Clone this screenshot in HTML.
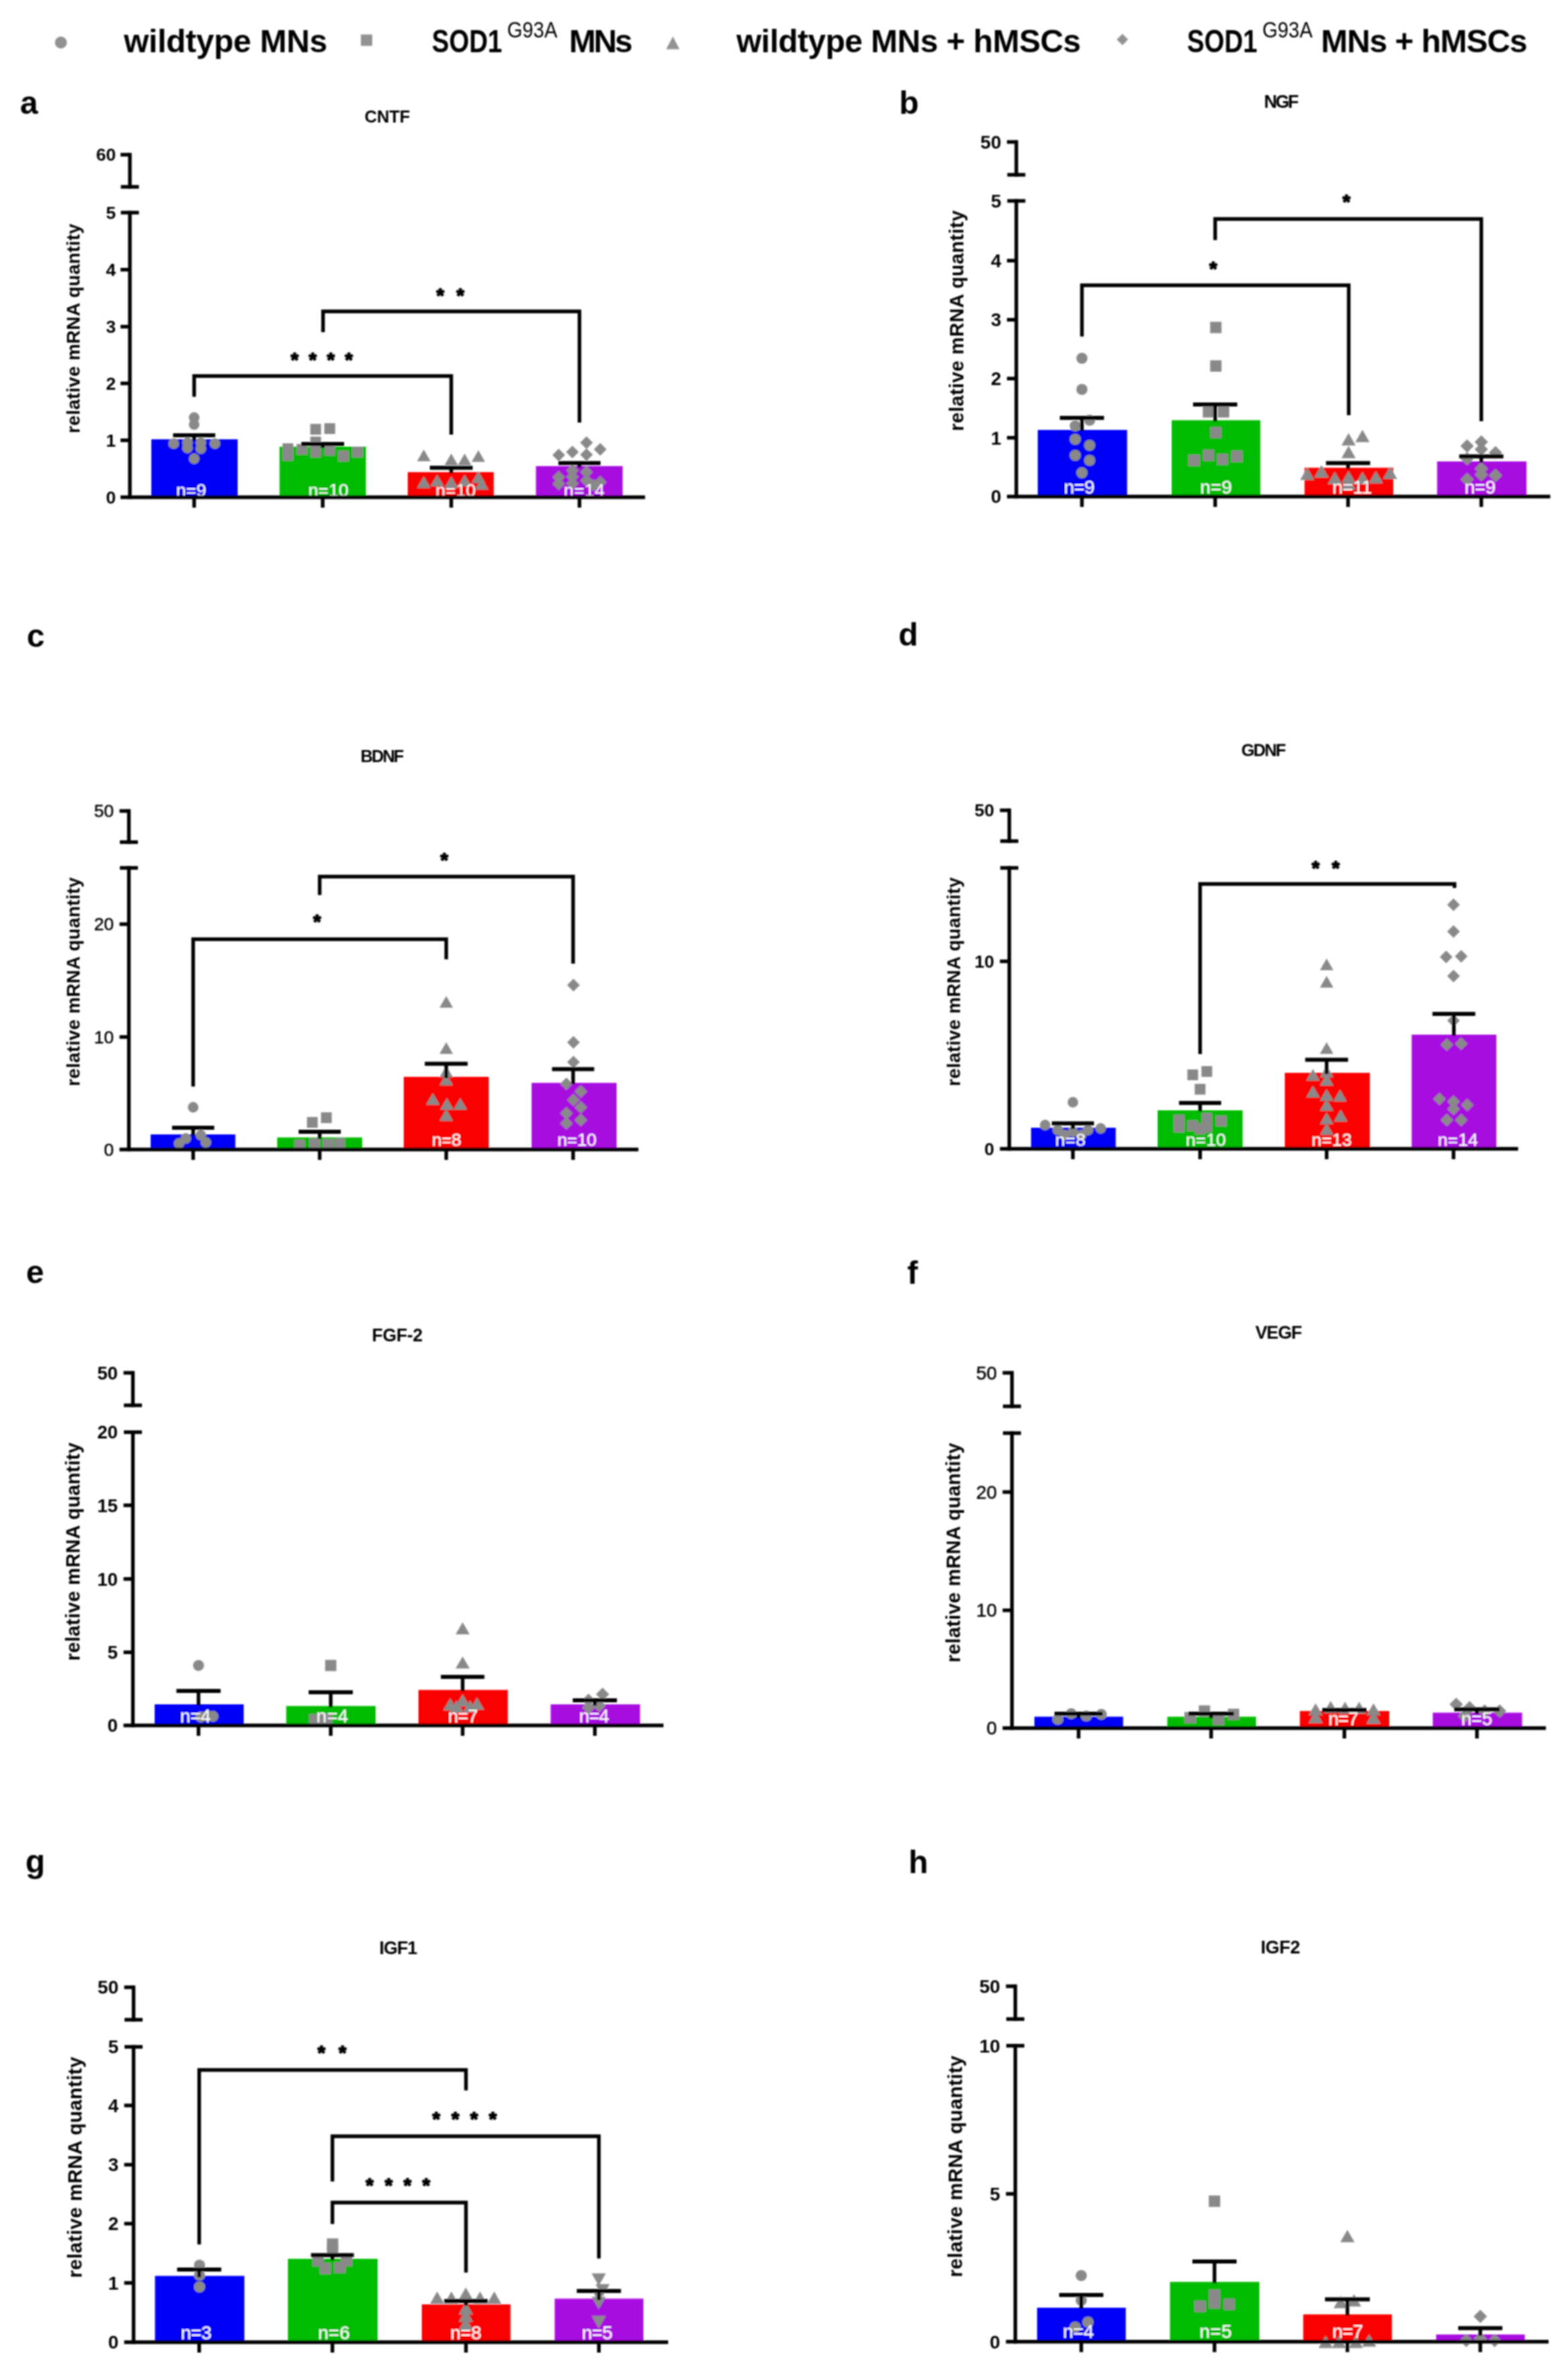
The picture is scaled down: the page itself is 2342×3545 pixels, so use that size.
<!DOCTYPE html>
<html lang="en">
<head>
<meta charset="utf-8">
<title>Neurotrophic factor mRNA expression</title>
<style>
html,body{margin:0;padding:0;background:#fff;}
body{width:2342px;height:3545px;overflow:hidden;font-family:"Liberation Sans", sans-serif;}
svg{display:block;}
</style>
</head>
<body>
<svg width="2342" height="3545" viewBox="0 0 2342 3545" font-family='"Liberation Sans", sans-serif'>
<rect width="2342" height="3545" fill="#fff"/>
<g id="fig" filter="url(#soft)">
<circle cx="91" cy="63.5" r="9" fill="#929292"/>
<text x="185" y="77.5" font-size="48" font-weight="bold" text-anchor="start" fill="#000" textLength="304" lengthAdjust="spacing">wildtype MNs</text>
<rect x="539" y="51.5" width="17" height="17" fill="#929292"/>
<text x="645" y="77.5" font-size="48" font-weight="bold" text-anchor="start" fill="#000" textLength="105" lengthAdjust="spacingAndGlyphs">SOD1</text>
<text x="757.5" y="56" font-size="33" font-weight="normal" text-anchor="start" fill="#000" textLength="75" lengthAdjust="spacingAndGlyphs">G93A</text>
<text x="850" y="77.5" font-size="48" font-weight="bold" text-anchor="start" fill="#000" textLength="95" lengthAdjust="spacing">MNs</text>
<path d="M995 73.5L1015 73.5L1005 54.5Z" fill="#929292"/>
<text x="1100" y="77.5" font-size="48" font-weight="bold" text-anchor="start" fill="#000" textLength="514.5" lengthAdjust="spacing">wildtype MNs + hMSCs</text>
<path d="M1668 59L1676.5 50.5L1685 59L1676.5 67.5Z" fill="#929292"/>
<text x="1773" y="77.5" font-size="48" font-weight="bold" text-anchor="start" fill="#000" textLength="105" lengthAdjust="spacingAndGlyphs">SOD1</text>
<text x="1885.5" y="56" font-size="33" font-weight="normal" text-anchor="start" fill="#000" textLength="75" lengthAdjust="spacingAndGlyphs">G93A</text>
<text x="1973" y="77.5" font-size="48" font-weight="bold" text-anchor="start" fill="#000" textLength="308.5" lengthAdjust="spacing">MNs + hMSCs</text>
<rect x="226" y="656" width="129" height="86.5" fill="#0000f8"/>
<rect x="417.5" y="667" width="129" height="75.5" fill="#00bc00"/>
<rect x="609" y="705" width="128.5" height="37.5" fill="#fa0000"/>
<rect x="800.5" y="696" width="129.5" height="46.5" fill="#a808e0"/>
<circle cx="290" cy="623.5" r="7.92" fill="#898989"/>
<circle cx="290" cy="634" r="7.92" fill="#898989"/>
<circle cx="259.5" cy="662.5" r="7.92" fill="#898989"/>
<circle cx="280" cy="661" r="7.92" fill="#898989"/>
<circle cx="280" cy="669" r="7.92" fill="#898989"/>
<circle cx="300" cy="661" r="7.92" fill="#898989"/>
<circle cx="300" cy="670" r="7.92" fill="#898989"/>
<circle cx="321" cy="662.5" r="7.92" fill="#898989"/>
<circle cx="290" cy="685" r="7.92" fill="#898989"/>
<rect x="463.44" y="632.94" width="16.13" height="16.13" fill="#898989"/>
<rect x="484.44" y="631.94" width="16.13" height="16.13" fill="#898989"/>
<rect x="421.94" y="661.94" width="16.13" height="16.13" fill="#898989"/>
<rect x="421.94" y="671.94" width="16.13" height="16.13" fill="#898989"/>
<rect x="442.94" y="662.94" width="16.13" height="16.13" fill="#898989"/>
<rect x="463.44" y="666.94" width="16.13" height="16.13" fill="#898989"/>
<rect x="484.44" y="664.44" width="16.13" height="16.13" fill="#898989"/>
<rect x="504.94" y="672.94" width="16.13" height="16.13" fill="#898989"/>
<rect x="525.94" y="666.94" width="16.13" height="16.13" fill="#898989"/>
<rect x="463.44" y="651.94" width="16.13" height="16.13" fill="#898989"/>
<path d="M622.91 688.71L643.09 688.71L633 671.29Z" fill="#898989"/>
<path d="M663.91 694.71L684.09 694.71L674 677.29Z" fill="#898989"/>
<path d="M683.91 694.71L704.09 694.71L694 677.29Z" fill="#898989"/>
<path d="M704.41 689.71L724.59 689.71L714.5 672.29Z" fill="#898989"/>
<path d="M622.91 728.71L643.09 728.71L633 711.29Z" fill="#898989"/>
<path d="M642.91 726.21L663.09 726.21L653 708.79Z" fill="#898989"/>
<path d="M663.91 728.71L684.09 728.71L674 711.29Z" fill="#898989"/>
<path d="M683.91 726.21L704.09 726.21L694 708.79Z" fill="#898989"/>
<path d="M704.41 721.21L724.59 721.21L714.5 703.79Z" fill="#898989"/>
<path d="M709.41 731.21L729.59 731.21L719.5 713.79Z" fill="#898989"/>
<path d="M866.5 661L876 651.5L885.5 661L876 670.5Z" fill="#898989"/>
<path d="M887 671L896.5 661.5L906 671L896.5 680.5Z" fill="#898989"/>
<path d="M845.5 675L855 665.5L864.5 675L855 684.5Z" fill="#898989"/>
<path d="M825 679.5L834.5 670L844 679.5L834.5 689Z" fill="#898989"/>
<path d="M866.5 679L876 669.5L885.5 679L876 688.5Z" fill="#898989"/>
<path d="M845.5 702.5L855 693L864.5 702.5L855 712Z" fill="#898989"/>
<path d="M866.5 705L876 695.5L885.5 705L876 714.5Z" fill="#898989"/>
<path d="M845.5 712L855 702.5L864.5 712L855 721.5Z" fill="#898989"/>
<path d="M825 712.5L834.5 703L844 712.5L834.5 722Z" fill="#898989"/>
<path d="M825 722.5L834.5 713L844 722.5L834.5 732Z" fill="#898989"/>
<path d="M866.5 717.5L876 708L885.5 717.5L876 727Z" fill="#898989"/>
<path d="M887 720L896.5 710.5L906 720L896.5 729.5Z" fill="#898989"/>
<path d="M845.5 722L855 712.5L864.5 722L855 731.5Z" fill="#898989"/>
<path d="M877.5 725L887 715.5L896.5 725L887 734.5Z" fill="#898989"/>
<line x1="290" y1="650" x2="290" y2="658" stroke="#000" stroke-width="5.4"/>
<line x1="258.5" y1="650" x2="321.5" y2="650" stroke="#000" stroke-width="5.8"/>
<line x1="482" y1="663" x2="482" y2="669" stroke="#000" stroke-width="5.4"/>
<line x1="450" y1="663" x2="514" y2="663" stroke="#000" stroke-width="5.8"/>
<line x1="674" y1="698.5" x2="674" y2="707" stroke="#000" stroke-width="5.4"/>
<line x1="642" y1="698.5" x2="706" y2="698.5" stroke="#000" stroke-width="5.8"/>
<line x1="865.5" y1="691.5" x2="865.5" y2="698" stroke="#000" stroke-width="5.4"/>
<line x1="834" y1="691.5" x2="897" y2="691.5" stroke="#000" stroke-width="5.8"/>
<text x="285.5" y="741" font-size="26.64" font-weight="normal" text-anchor="middle" fill="#fff" textLength="45" lengthAdjust="spacing">n=9</text>
<text x="490.5" y="741" font-size="26.64" font-weight="normal" text-anchor="middle" fill="#fff" textLength="60" lengthAdjust="spacing">n=10</text>
<text x="680.5" y="741" font-size="26.64" font-weight="normal" text-anchor="middle" fill="#fff" textLength="60" lengthAdjust="spacing">n=10</text>
<text x="872.5" y="741" font-size="26.64" font-weight="normal" text-anchor="middle" fill="#fff" textLength="61" lengthAdjust="spacing">n=14</text>
<path d="M290 592.5L290 561.5L674 561.5L674 649" fill="none" stroke="#000" stroke-width="5.4" stroke-linejoin="miter"/>
<path d="M482.5 496L482.5 465L865.5 465L865.5 631" fill="none" stroke="#000" stroke-width="5.4" stroke-linejoin="miter"/>
<text x="440" y="547" font-size="30" font-weight="bold" text-anchor="middle" fill="#000" stroke="#000" stroke-width="1.6" stroke-linejoin="round">*</text>
<text x="467" y="547" font-size="30" font-weight="bold" text-anchor="middle" fill="#000" stroke="#000" stroke-width="1.6" stroke-linejoin="round">*</text>
<text x="494" y="547" font-size="30" font-weight="bold" text-anchor="middle" fill="#000" stroke="#000" stroke-width="1.6" stroke-linejoin="round">*</text>
<text x="521" y="547" font-size="30" font-weight="bold" text-anchor="middle" fill="#000" stroke="#000" stroke-width="1.6" stroke-linejoin="round">*</text>
<text x="657.5" y="451" font-size="30" font-weight="bold" text-anchor="middle" fill="#000" stroke="#000" stroke-width="1.6" stroke-linejoin="round">*</text>
<text x="687.5" y="451" font-size="30" font-weight="bold" text-anchor="middle" fill="#000" stroke="#000" stroke-width="1.6" stroke-linejoin="round">*</text>
<line x1="194" y1="314.8" x2="194" y2="745.2" stroke="#000" stroke-width="5.4"/>
<line x1="180" y1="742.5" x2="963.5" y2="742.5" stroke="#000" stroke-width="5.4"/>
<line x1="180.5" y1="317.5" x2="207.5" y2="317.5" stroke="#000" stroke-width="5.4"/>
<line x1="194" y1="228.3" x2="194" y2="281.7" stroke="#000" stroke-width="5.4"/>
<line x1="180" y1="231" x2="194" y2="231" stroke="#000" stroke-width="5.4"/>
<line x1="180.5" y1="279" x2="207.5" y2="279" stroke="#000" stroke-width="5.4"/>
<text x="173" y="751.92" font-size="26.64" font-weight="bold" text-anchor="end" fill="#000">0</text>
<line x1="180" y1="657.5" x2="194" y2="657.5" stroke="#000" stroke-width="5.4"/>
<text x="173" y="666.92" font-size="26.64" font-weight="bold" text-anchor="end" fill="#000">1</text>
<line x1="180" y1="572.5" x2="194" y2="572.5" stroke="#000" stroke-width="5.4"/>
<text x="173" y="581.92" font-size="26.64" font-weight="bold" text-anchor="end" fill="#000">2</text>
<line x1="180" y1="487.8" x2="194" y2="487.8" stroke="#000" stroke-width="5.4"/>
<text x="173" y="497.22" font-size="26.64" font-weight="bold" text-anchor="end" fill="#000">3</text>
<line x1="180" y1="402.7" x2="194" y2="402.7" stroke="#000" stroke-width="5.4"/>
<text x="173" y="412.12" font-size="26.64" font-weight="bold" text-anchor="end" fill="#000">4</text>
<text x="173" y="326.92" font-size="26.64" font-weight="bold" text-anchor="end" fill="#000">5</text>
<text x="173" y="240.42" font-size="26.64" font-weight="bold" text-anchor="end" fill="#000">60</text>
<line x1="290" y1="742.5" x2="290" y2="758" stroke="#000" stroke-width="5.4"/>
<line x1="482" y1="742.5" x2="482" y2="758" stroke="#000" stroke-width="5.4"/>
<line x1="674" y1="742.5" x2="674" y2="758" stroke="#000" stroke-width="5.4"/>
<line x1="865.5" y1="742.5" x2="865.5" y2="758" stroke="#000" stroke-width="5.4"/>
<text x="578.5" y="183.23" font-size="25.69" font-weight="bold" text-anchor="middle" fill="#000" textLength="68" lengthAdjust="spacing">CNTF</text>
<text transform="translate(119 490.4) rotate(-90)" font-size="27.88" font-weight="bold" text-anchor="middle" textLength="313" lengthAdjust="spacing">relative mRNA quantity</text>
<text x="30" y="169.5" font-size="48" font-weight="bold" text-anchor="start" fill="#000">a</text>
<rect x="1550" y="642" width="133.5" height="99.5" fill="#0000f8"/>
<rect x="1750" y="627.5" width="132.5" height="114" fill="#00bc00"/>
<rect x="1948.5" y="698.5" width="132.5" height="43" fill="#fa0000"/>
<rect x="2146.5" y="689" width="133.5" height="52.5" fill="#a808e0"/>
<circle cx="1616" cy="535" r="8.33" fill="#898989"/>
<circle cx="1616" cy="581.5" r="8.33" fill="#898989"/>
<circle cx="1627.5" cy="627.5" r="8.33" fill="#898989"/>
<circle cx="1606" cy="636" r="8.33" fill="#898989"/>
<circle cx="1606" cy="656" r="8.33" fill="#898989"/>
<circle cx="1627.5" cy="665" r="8.33" fill="#898989"/>
<circle cx="1606" cy="680" r="8.33" fill="#898989"/>
<circle cx="1627.5" cy="687.5" r="8.33" fill="#898989"/>
<circle cx="1616" cy="706" r="8.33" fill="#898989"/>
<rect x="1807.51" y="480.51" width="16.98" height="16.98" fill="#898989"/>
<rect x="1807.51" y="538.01" width="16.98" height="16.98" fill="#898989"/>
<rect x="1796.51" y="606.51" width="16.98" height="16.98" fill="#898989"/>
<rect x="1819.01" y="606.51" width="16.98" height="16.98" fill="#898989"/>
<rect x="1807.51" y="637.51" width="16.98" height="16.98" fill="#898989"/>
<rect x="1775.01" y="679.01" width="16.98" height="16.98" fill="#898989"/>
<rect x="1796.51" y="671.51" width="16.98" height="16.98" fill="#898989"/>
<rect x="1817.51" y="677.51" width="16.98" height="16.98" fill="#898989"/>
<rect x="1839.01" y="673.01" width="16.98" height="16.98" fill="#898989"/>
<path d="M2003.63 665.17L2024.87 665.17L2014.25 646.83Z" fill="#898989"/>
<path d="M2024.38 660.17L2045.62 660.17L2035 641.83Z" fill="#898989"/>
<path d="M2003.63 684.17L2024.87 684.17L2014.25 665.83Z" fill="#898989"/>
<path d="M1941.88 716.67L1963.12 716.67L1952.5 698.33Z" fill="#898989"/>
<path d="M1963.13 712.92L1984.37 712.92L1973.75 694.58Z" fill="#898989"/>
<path d="M1983.13 722.92L2004.37 722.92L1993.75 704.58Z" fill="#898989"/>
<path d="M2003.63 721.67L2024.87 721.67L2014.25 703.33Z" fill="#898989"/>
<path d="M2024.38 722.92L2045.62 722.92L2035 704.58Z" fill="#898989"/>
<path d="M2044.38 721.67L2065.62 721.67L2055 703.33Z" fill="#898989"/>
<path d="M2065.63 715.17L2086.87 715.17L2076.25 696.83Z" fill="#898989"/>
<path d="M2003.63 731.17L2024.87 731.17L2014.25 712.83Z" fill="#898989"/>
<path d="M2181.25 666L2191.25 656L2201.25 666L2191.25 676Z" fill="#898989"/>
<path d="M2202.5 660L2212.5 650L2222.5 660L2212.5 670Z" fill="#898989"/>
<path d="M2202.5 671L2212.5 661L2222.5 671L2212.5 681Z" fill="#898989"/>
<path d="M2223.75 676L2233.75 666L2243.75 676L2233.75 686Z" fill="#898989"/>
<path d="M2181.25 685L2191.25 675L2201.25 685L2191.25 695Z" fill="#898989"/>
<path d="M2202.5 700L2212.5 690L2222.5 700L2212.5 710Z" fill="#898989"/>
<path d="M2202.5 708.75L2212.5 698.75L2222.5 708.75L2212.5 718.75Z" fill="#898989"/>
<path d="M2181.25 716L2191.25 706L2201.25 716L2191.25 726Z" fill="#898989"/>
<path d="M2223.75 710L2233.75 700L2243.75 710L2233.75 720Z" fill="#898989"/>
<line x1="1616" y1="624" x2="1616" y2="644" stroke="#000" stroke-width="5.4"/>
<line x1="1583" y1="624" x2="1649" y2="624" stroke="#000" stroke-width="5.8"/>
<line x1="1815" y1="604" x2="1815" y2="629.5" stroke="#000" stroke-width="5.4"/>
<line x1="1782" y1="604" x2="1848" y2="604" stroke="#000" stroke-width="5.8"/>
<line x1="2013.5" y1="691.5" x2="2013.5" y2="700.5" stroke="#000" stroke-width="5.4"/>
<line x1="1980.5" y1="691.5" x2="2046.5" y2="691.5" stroke="#000" stroke-width="5.8"/>
<line x1="2212.5" y1="681.5" x2="2212.5" y2="691" stroke="#000" stroke-width="5.4"/>
<line x1="2179.5" y1="681.5" x2="2245.5" y2="681.5" stroke="#000" stroke-width="5.8"/>
<text x="1612" y="737" font-size="28.04" font-weight="normal" text-anchor="middle" fill="#fff" textLength="46" lengthAdjust="spacing">n=9</text>
<text x="1816.25" y="737" font-size="28.04" font-weight="normal" text-anchor="middle" fill="#fff" textLength="47.5" lengthAdjust="spacing">n=9</text>
<text x="2019.5" y="737" font-size="28.04" font-weight="normal" text-anchor="middle" fill="#fff" textLength="59" lengthAdjust="spacing">n=11</text>
<text x="2210.75" y="737" font-size="28.04" font-weight="normal" text-anchor="middle" fill="#fff" textLength="46.5" lengthAdjust="spacing">n=9</text>
<path d="M1616 502.5L1616 426L2014.5 426L2014.5 620" fill="none" stroke="#000" stroke-width="5.4" stroke-linejoin="miter"/>
<path d="M1815 358.5L1815 327L2212.5 327L2212.5 629" fill="none" stroke="#000" stroke-width="5.4" stroke-linejoin="miter"/>
<text x="1812" y="410.5" font-size="30" font-weight="bold" text-anchor="middle" fill="#000" stroke="#000" stroke-width="1.6" stroke-linejoin="round">*</text>
<text x="2011" y="311" font-size="30" font-weight="bold" text-anchor="middle" fill="#000" stroke="#000" stroke-width="1.6" stroke-linejoin="round">*</text>
<line x1="1518" y1="297.3" x2="1518" y2="744.2" stroke="#000" stroke-width="5.4"/>
<line x1="1504" y1="741.5" x2="2315.5" y2="741.5" stroke="#000" stroke-width="5.4"/>
<line x1="1504.5" y1="300" x2="1531.5" y2="300" stroke="#000" stroke-width="5.4"/>
<line x1="1518" y1="209.3" x2="1518" y2="263.7" stroke="#000" stroke-width="5.4"/>
<line x1="1504" y1="212" x2="1518" y2="212" stroke="#000" stroke-width="5.4"/>
<line x1="1504.5" y1="261" x2="1531.5" y2="261" stroke="#000" stroke-width="5.4"/>
<text x="1495.5" y="751.42" font-size="28.04" font-weight="bold" text-anchor="end" fill="#000">0</text>
<line x1="1504" y1="653.7" x2="1518" y2="653.7" stroke="#000" stroke-width="5.4"/>
<text x="1495.5" y="663.62" font-size="28.04" font-weight="bold" text-anchor="end" fill="#000">1</text>
<line x1="1504" y1="565.3" x2="1518" y2="565.3" stroke="#000" stroke-width="5.4"/>
<text x="1495.5" y="575.22" font-size="28.04" font-weight="bold" text-anchor="end" fill="#000">2</text>
<line x1="1504" y1="477.5" x2="1518" y2="477.5" stroke="#000" stroke-width="5.4"/>
<text x="1495.5" y="487.42" font-size="28.04" font-weight="bold" text-anchor="end" fill="#000">3</text>
<line x1="1504" y1="389.2" x2="1518" y2="389.2" stroke="#000" stroke-width="5.4"/>
<text x="1495.5" y="399.12" font-size="28.04" font-weight="bold" text-anchor="end" fill="#000">4</text>
<text x="1495.5" y="309.92" font-size="28.04" font-weight="bold" text-anchor="end" fill="#000">5</text>
<text x="1495.5" y="221.92" font-size="28.04" font-weight="bold" text-anchor="end" fill="#000">50</text>
<line x1="1616" y1="741.5" x2="1616" y2="757" stroke="#000" stroke-width="5.4"/>
<line x1="1815" y1="741.5" x2="1815" y2="757" stroke="#000" stroke-width="5.4"/>
<line x1="2013.5" y1="741.5" x2="2013.5" y2="757" stroke="#000" stroke-width="5.4"/>
<line x1="2212.5" y1="741.5" x2="2212.5" y2="757" stroke="#000" stroke-width="5.4"/>
<text x="1914" y="161.21" font-size="27.04" font-weight="bold" text-anchor="middle" fill="#000" textLength="52" lengthAdjust="spacing">NGF</text>
<text transform="translate(1439.3 479) rotate(-90)" font-size="29.34" font-weight="bold" text-anchor="middle" textLength="329.5" lengthAdjust="spacing">relative mRNA quantity</text>
<text x="1343" y="169.5" font-size="48" font-weight="bold" text-anchor="start" fill="#000">b</text>
<rect x="225" y="1694" width="126.5" height="22.5" fill="#0000f8"/>
<rect x="414" y="1698.5" width="127" height="18" fill="#00bc00"/>
<rect x="603" y="1608" width="127" height="108.5" fill="#fa0000"/>
<rect x="794" y="1617" width="127" height="99.5" fill="#a808e0"/>
<circle cx="288.5" cy="1653.5" r="7.89" fill="#898989"/>
<circle cx="277.5" cy="1700" r="7.89" fill="#898989"/>
<circle cx="300" cy="1695" r="7.89" fill="#898989"/>
<circle cx="267.5" cy="1707.5" r="7.89" fill="#898989"/>
<circle cx="307.5" cy="1706" r="7.89" fill="#898989"/>
<rect x="458.46" y="1667.96" width="16.08" height="16.08" fill="#898989"/>
<rect x="479.46" y="1660.96" width="16.08" height="16.08" fill="#898989"/>
<rect x="439.46" y="1701.96" width="16.08" height="16.08" fill="#898989"/>
<rect x="461.96" y="1699.46" width="16.08" height="16.08" fill="#898989"/>
<rect x="481.96" y="1700.96" width="16.08" height="16.08" fill="#898989"/>
<rect x="499.46" y="1699.46" width="16.08" height="16.08" fill="#898989"/>
<path d="M656.44 1504.68L676.56 1504.68L666.5 1487.32Z" fill="#898989"/>
<path d="M656.44 1573.68L676.56 1573.68L666.5 1556.32Z" fill="#898989"/>
<path d="M656.44 1608.68L676.56 1608.68L666.5 1591.32Z" fill="#898989"/>
<path d="M636.44 1649.68L656.56 1649.68L646.5 1632.32Z" fill="#898989"/>
<path d="M657.44 1657.18L677.56 1657.18L667.5 1639.82Z" fill="#898989"/>
<path d="M677.44 1657.18L697.56 1657.18L687.5 1639.82Z" fill="#898989"/>
<path d="M656.44 1673.68L676.56 1673.68L666.5 1656.32Z" fill="#898989"/>
<path d="M656.44 1620.68L676.56 1620.68L666.5 1603.32Z" fill="#898989"/>
<path d="M847.03 1471L856.5 1461.53L865.97 1471L856.5 1480.47Z" fill="#898989"/>
<path d="M847.03 1556.5L856.5 1547.03L865.97 1556.5L856.5 1565.97Z" fill="#898989"/>
<path d="M847.03 1586L856.5 1576.53L865.97 1586L856.5 1595.47Z" fill="#898989"/>
<path d="M836.53 1618.5L846 1609.03L855.47 1618.5L846 1627.97Z" fill="#898989"/>
<path d="M858.03 1630L867.5 1620.53L876.97 1630L867.5 1639.47Z" fill="#898989"/>
<path d="M847.03 1642.5L856.5 1633.03L865.97 1642.5L856.5 1651.97Z" fill="#898989"/>
<path d="M858.03 1653.5L867.5 1644.03L876.97 1653.5L867.5 1662.97Z" fill="#898989"/>
<path d="M836.53 1662.5L846 1653.03L855.47 1662.5L846 1671.97Z" fill="#898989"/>
<path d="M858.03 1672.5L867.5 1663.03L876.97 1672.5L867.5 1681.97Z" fill="#898989"/>
<path d="M836.53 1677.5L846 1668.03L855.47 1677.5L846 1686.97Z" fill="#898989"/>
<line x1="288.5" y1="1684" x2="288.5" y2="1696" stroke="#000" stroke-width="5.4"/>
<line x1="257" y1="1684" x2="320" y2="1684" stroke="#000" stroke-width="5.8"/>
<line x1="477.5" y1="1690" x2="477.5" y2="1700.5" stroke="#000" stroke-width="5.4"/>
<line x1="446" y1="1690" x2="509" y2="1690" stroke="#000" stroke-width="5.8"/>
<line x1="666.5" y1="1588.5" x2="666.5" y2="1610" stroke="#000" stroke-width="5.4"/>
<line x1="634.5" y1="1588.5" x2="698.5" y2="1588.5" stroke="#000" stroke-width="5.8"/>
<line x1="856" y1="1596.5" x2="856" y2="1619" stroke="#000" stroke-width="5.4"/>
<line x1="824.5" y1="1596.5" x2="887.5" y2="1596.5" stroke="#000" stroke-width="5.8"/>
<text x="667" y="1711" font-size="26.55" font-weight="normal" text-anchor="middle" fill="#fff" textLength="44" lengthAdjust="spacing">n=8</text>
<text x="861.75" y="1711" font-size="26.55" font-weight="normal" text-anchor="middle" fill="#fff" textLength="58.5" lengthAdjust="spacing">n=10</text>
<path d="M288.5 1622.5L288.5 1402.5L666.5 1402.5L666.5 1432.5" fill="none" stroke="#000" stroke-width="5.4" stroke-linejoin="miter"/>
<path d="M477.5 1336.5L477.5 1309L856 1309L856 1439" fill="none" stroke="#000" stroke-width="5.4" stroke-linejoin="miter"/>
<text x="473.5" y="1386" font-size="30" font-weight="bold" text-anchor="middle" fill="#000" stroke="#000" stroke-width="1.6" stroke-linejoin="round">*</text>
<text x="663.5" y="1293.5" font-size="30" font-weight="bold" text-anchor="middle" fill="#000" stroke="#000" stroke-width="1.6" stroke-linejoin="round">*</text>
<line x1="192.5" y1="1293.3" x2="192.5" y2="1719.2" stroke="#000" stroke-width="5.4"/>
<line x1="178.5" y1="1716.5" x2="953.5" y2="1716.5" stroke="#000" stroke-width="5.4"/>
<line x1="179" y1="1296" x2="206" y2="1296" stroke="#000" stroke-width="5.4"/>
<line x1="192.5" y1="1208.3" x2="192.5" y2="1260.2" stroke="#000" stroke-width="5.4"/>
<line x1="178.5" y1="1211" x2="192.5" y2="1211" stroke="#000" stroke-width="5.4"/>
<line x1="179" y1="1257.5" x2="206" y2="1257.5" stroke="#000" stroke-width="5.4"/>
<text x="170" y="1725.89" font-size="26.55" font-weight="normal" text-anchor="end" fill="#000" stroke="#000" stroke-width="0.5">0</text>
<line x1="178.5" y1="1548.5" x2="192.5" y2="1548.5" stroke="#000" stroke-width="5.4"/>
<text x="170" y="1557.89" font-size="26.55" font-weight="normal" text-anchor="end" fill="#000" stroke="#000" stroke-width="0.5">10</text>
<line x1="178.5" y1="1380" x2="192.5" y2="1380" stroke="#000" stroke-width="5.4"/>
<text x="170" y="1389.39" font-size="26.55" font-weight="normal" text-anchor="end" fill="#000" stroke="#000" stroke-width="0.5">20</text>
<text x="170" y="1220.39" font-size="26.55" font-weight="normal" text-anchor="end" fill="#000" stroke="#000" stroke-width="0.5">50</text>
<line x1="288.5" y1="1716.5" x2="288.5" y2="1732" stroke="#000" stroke-width="5.4"/>
<line x1="477.5" y1="1716.5" x2="477.5" y2="1732" stroke="#000" stroke-width="5.4"/>
<line x1="666.5" y1="1716.5" x2="666.5" y2="1732" stroke="#000" stroke-width="5.4"/>
<line x1="856" y1="1716.5" x2="856" y2="1732" stroke="#000" stroke-width="5.4"/>
<text x="571" y="1138.2" font-size="25.6" font-weight="bold" text-anchor="middle" fill="#000" textLength="65" lengthAdjust="spacing">BDNF</text>
<text transform="translate(118.6 1466) rotate(-90)" font-size="27.79" font-weight="bold" text-anchor="middle" textLength="312" lengthAdjust="spacing">relative mRNA quantity</text>
<text x="40" y="965.5" font-size="48" font-weight="bold" text-anchor="start" fill="#000">c</text>
<rect x="1540" y="1684" width="126.5" height="31.5" fill="#0000f8"/>
<rect x="1729" y="1658" width="127" height="57.5" fill="#00bc00"/>
<rect x="1919" y="1602" width="127" height="113.5" fill="#fa0000"/>
<rect x="2108.5" y="1545" width="126.5" height="170.5" fill="#a808e0"/>
<circle cx="1602.5" cy="1646" r="7.89" fill="#898989"/>
<circle cx="1561" cy="1680" r="7.89" fill="#898989"/>
<circle cx="1580" cy="1687.5" r="7.89" fill="#898989"/>
<circle cx="1602.5" cy="1690" r="7.89" fill="#898989"/>
<circle cx="1625" cy="1687.5" r="7.89" fill="#898989"/>
<circle cx="1644" cy="1685" r="7.89" fill="#898989"/>
<circle cx="1590" cy="1695" r="7.89" fill="#898989"/>
<circle cx="1615" cy="1695" r="7.89" fill="#898989"/>
<rect x="1773.46" y="1596.96" width="16.08" height="16.08" fill="#898989"/>
<rect x="1794.46" y="1591.96" width="16.08" height="16.08" fill="#898989"/>
<rect x="1784.46" y="1618.46" width="16.08" height="16.08" fill="#898989"/>
<rect x="1752.96" y="1664.46" width="16.08" height="16.08" fill="#898989"/>
<rect x="1752.96" y="1674.96" width="16.08" height="16.08" fill="#898989"/>
<rect x="1794.46" y="1661.96" width="16.08" height="16.08" fill="#898989"/>
<rect x="1794.46" y="1674.96" width="16.08" height="16.08" fill="#898989"/>
<rect x="1815.96" y="1665.96" width="16.08" height="16.08" fill="#898989"/>
<rect x="1773.46" y="1672.96" width="16.08" height="16.08" fill="#898989"/>
<rect x="1784.46" y="1677.96" width="16.08" height="16.08" fill="#898989"/>
<path d="M1971.44 1448.68L1991.56 1448.68L1981.5 1431.32Z" fill="#898989"/>
<path d="M1971.44 1474.68L1991.56 1474.68L1981.5 1457.32Z" fill="#898989"/>
<path d="M1971.44 1573.68L1991.56 1573.68L1981.5 1556.32Z" fill="#898989"/>
<path d="M1950.94 1613.68L1971.06 1613.68L1961 1596.32Z" fill="#898989"/>
<path d="M1971.44 1621.18L1991.56 1621.18L1981.5 1603.82Z" fill="#898989"/>
<path d="M1950.94 1638.68L1971.06 1638.68L1961 1621.32Z" fill="#898989"/>
<path d="M1971.44 1643.68L1991.56 1643.68L1981.5 1626.32Z" fill="#898989"/>
<path d="M1991.44 1644.68L2011.56 1644.68L2001.5 1627.32Z" fill="#898989"/>
<path d="M1971.44 1678.68L1991.56 1678.68L1981.5 1661.32Z" fill="#898989"/>
<path d="M1992.44 1674.68L2012.56 1674.68L2002.5 1657.32Z" fill="#898989"/>
<path d="M1971.44 1694.68L1991.56 1694.68L1981.5 1677.32Z" fill="#898989"/>
<path d="M1971.44 1608.68L1991.56 1608.68L1981.5 1591.32Z" fill="#898989"/>
<path d="M1971.44 1658.68L1991.56 1658.68L1981.5 1641.32Z" fill="#898989"/>
<path d="M2161.53 1351L2171 1341.53L2180.47 1351L2171 1360.47Z" fill="#898989"/>
<path d="M2161.53 1391L2171 1381.53L2180.47 1391L2171 1400.47Z" fill="#898989"/>
<path d="M2150.53 1429L2160 1419.53L2169.47 1429L2160 1438.47Z" fill="#898989"/>
<path d="M2173.03 1428L2182.5 1418.53L2191.97 1428L2182.5 1437.47Z" fill="#898989"/>
<path d="M2161.53 1457.5L2171 1448.03L2180.47 1457.5L2171 1466.97Z" fill="#898989"/>
<path d="M2161.53 1524L2171 1514.53L2180.47 1524L2171 1533.47Z" fill="#898989"/>
<path d="M2151.53 1560L2161 1550.53L2170.47 1560L2161 1569.47Z" fill="#898989"/>
<path d="M2173.03 1558.5L2182.5 1549.03L2191.97 1558.5L2182.5 1567.97Z" fill="#898989"/>
<path d="M2140.53 1641L2150 1631.53L2159.47 1641L2150 1650.47Z" fill="#898989"/>
<path d="M2161.53 1645L2171 1635.53L2180.47 1645L2171 1654.47Z" fill="#898989"/>
<path d="M2182.03 1650L2191.5 1640.53L2200.97 1650L2191.5 1659.47Z" fill="#898989"/>
<path d="M2161.53 1656L2171 1646.53L2180.47 1656L2171 1665.47Z" fill="#898989"/>
<path d="M2151.53 1672.5L2161 1663.03L2170.47 1672.5L2161 1681.97Z" fill="#898989"/>
<path d="M2173.03 1672.5L2182.5 1663.03L2191.97 1672.5L2182.5 1681.97Z" fill="#898989"/>
<line x1="1602.5" y1="1677.5" x2="1602.5" y2="1686" stroke="#000" stroke-width="5.4"/>
<line x1="1571" y1="1677.5" x2="1634" y2="1677.5" stroke="#000" stroke-width="5.8"/>
<line x1="1792.5" y1="1647" x2="1792.5" y2="1660" stroke="#000" stroke-width="5.4"/>
<line x1="1761" y1="1647" x2="1824" y2="1647" stroke="#000" stroke-width="5.8"/>
<line x1="1981.5" y1="1582.5" x2="1981.5" y2="1604" stroke="#000" stroke-width="5.4"/>
<line x1="1949.5" y1="1582.5" x2="2013.5" y2="1582.5" stroke="#000" stroke-width="5.8"/>
<line x1="2171.5" y1="1514" x2="2171.5" y2="1547" stroke="#000" stroke-width="5.4"/>
<line x1="2139.5" y1="1514" x2="2203.5" y2="1514" stroke="#000" stroke-width="5.8"/>
<text x="1598.75" y="1710.5" font-size="26.55" font-weight="normal" text-anchor="middle" fill="#fff" textLength="45.5" lengthAdjust="spacing">n=8</text>
<text x="1801" y="1710.5" font-size="26.55" font-weight="normal" text-anchor="middle" fill="#fff" textLength="60" lengthAdjust="spacing">n=10</text>
<text x="1989" y="1710.5" font-size="26.55" font-weight="normal" text-anchor="middle" fill="#fff" textLength="60" lengthAdjust="spacing">n=13</text>
<text x="2177.5" y="1710.5" font-size="26.55" font-weight="normal" text-anchor="middle" fill="#fff" textLength="60" lengthAdjust="spacing">n=14</text>
<path d="M1792.5 1574L1792.5 1320L2172.5 1320L2172.5 1326" fill="none" stroke="#000" stroke-width="5.4" stroke-linejoin="miter"/>
<text x="1965" y="1305.5" font-size="30" font-weight="bold" text-anchor="middle" fill="#000" stroke="#000" stroke-width="1.6" stroke-linejoin="round">*</text>
<text x="1995" y="1305.5" font-size="30" font-weight="bold" text-anchor="middle" fill="#000" stroke="#000" stroke-width="1.6" stroke-linejoin="round">*</text>
<line x1="1507.5" y1="1293.3" x2="1507.5" y2="1718.2" stroke="#000" stroke-width="5.4"/>
<line x1="1493.5" y1="1715.5" x2="2267.5" y2="1715.5" stroke="#000" stroke-width="5.4"/>
<line x1="1494" y1="1296" x2="1521" y2="1296" stroke="#000" stroke-width="5.4"/>
<line x1="1507.5" y1="1207.3" x2="1507.5" y2="1258.7" stroke="#000" stroke-width="5.4"/>
<line x1="1493.5" y1="1210" x2="1507.5" y2="1210" stroke="#000" stroke-width="5.4"/>
<line x1="1494" y1="1256" x2="1521" y2="1256" stroke="#000" stroke-width="5.4"/>
<text x="1485" y="1724.89" font-size="26.55" font-weight="bold" text-anchor="end" fill="#000">0</text>
<line x1="1493.5" y1="1435.5" x2="1507.5" y2="1435.5" stroke="#000" stroke-width="5.4"/>
<text x="1485" y="1444.89" font-size="26.55" font-weight="bold" text-anchor="end" fill="#000">10</text>
<text x="1485" y="1219.39" font-size="26.55" font-weight="bold" text-anchor="end" fill="#000">50</text>
<line x1="1602.5" y1="1715.5" x2="1602.5" y2="1731" stroke="#000" stroke-width="5.4"/>
<line x1="1792.5" y1="1715.5" x2="1792.5" y2="1731" stroke="#000" stroke-width="5.4"/>
<line x1="1981.5" y1="1715.5" x2="1981.5" y2="1731" stroke="#000" stroke-width="5.4"/>
<line x1="2171" y1="1715.5" x2="2171" y2="1731" stroke="#000" stroke-width="5.4"/>
<text x="1887.5" y="1129.2" font-size="25.6" font-weight="bold" text-anchor="middle" fill="#000" textLength="67" lengthAdjust="spacing">GDNF</text>
<text transform="translate(1433.6 1466) rotate(-90)" font-size="27.79" font-weight="bold" text-anchor="middle" textLength="312" lengthAdjust="spacing">relative mRNA quantity</text>
<text x="1342" y="963.5" font-size="48" font-weight="bold" text-anchor="start" fill="#000">d</text>
<rect x="231" y="2545" width="133" height="31.5" fill="#0000f8"/>
<rect x="427.5" y="2547.5" width="133.5" height="29" fill="#00bc00"/>
<rect x="625" y="2523.5" width="133.5" height="53" fill="#fa0000"/>
<rect x="822.5" y="2545" width="133.5" height="31.5" fill="#a808e0"/>
<circle cx="296.5" cy="2487" r="8.24" fill="#898989"/>
<circle cx="310" cy="2562.5" r="8.24" fill="#898989"/>
<circle cx="300" cy="2564" r="8.24" fill="#898989"/>
<circle cx="318" cy="2563" r="8.24" fill="#898989"/>
<rect x="485.6" y="2478.6" width="16.8" height="16.8" fill="#898989"/>
<rect x="471.6" y="2558.6" width="16.8" height="16.8" fill="#898989"/>
<rect x="461.6" y="2559.6" width="16.8" height="16.8" fill="#898989"/>
<rect x="479.6" y="2559.6" width="16.8" height="16.8" fill="#898989"/>
<path d="M680.49 2440.57L701.51 2440.57L691 2422.43Z" fill="#898989"/>
<path d="M680.49 2491.57L701.51 2491.57L691 2473.43Z" fill="#898989"/>
<path d="M661.99 2554.07L683.01 2554.07L672.5 2535.93Z" fill="#898989"/>
<path d="M680.49 2548.07L701.51 2548.07L691 2529.93Z" fill="#898989"/>
<path d="M701.99 2553.07L723.01 2553.07L712.5 2534.93Z" fill="#898989"/>
<path d="M671.49 2557.07L692.51 2557.07L682 2538.93Z" fill="#898989"/>
<path d="M691.49 2557.07L712.51 2557.07L702 2538.93Z" fill="#898989"/>
<path d="M869.11 2539L879 2529.11L888.89 2539L879 2548.89Z" fill="#898989"/>
<path d="M890.11 2530L900 2520.11L909.89 2530L900 2539.89Z" fill="#898989"/>
<path d="M869.11 2550L879 2540.11L888.89 2550L879 2559.89Z" fill="#898989"/>
<path d="M885.11 2547L895 2537.11L904.89 2547L895 2556.89Z" fill="#898989"/>
<line x1="296.5" y1="2525" x2="296.5" y2="2547" stroke="#000" stroke-width="5.4"/>
<line x1="263.5" y1="2525" x2="329.5" y2="2525" stroke="#000" stroke-width="5.8"/>
<line x1="494" y1="2527" x2="494" y2="2549.5" stroke="#000" stroke-width="5.4"/>
<line x1="461" y1="2527" x2="527" y2="2527" stroke="#000" stroke-width="5.8"/>
<line x1="691" y1="2504" x2="691" y2="2525.5" stroke="#000" stroke-width="5.4"/>
<line x1="658.5" y1="2504" x2="723.5" y2="2504" stroke="#000" stroke-width="5.8"/>
<line x1="888.5" y1="2539" x2="888.5" y2="2547" stroke="#000" stroke-width="5.4"/>
<line x1="855.5" y1="2539" x2="921.5" y2="2539" stroke="#000" stroke-width="5.8"/>
<text x="292" y="2571.5" font-size="27.74" font-weight="normal" text-anchor="middle" fill="#fff" textLength="46" lengthAdjust="spacing">n=4</text>
<text x="496.25" y="2571.5" font-size="27.74" font-weight="normal" text-anchor="middle" fill="#fff" textLength="47.5" lengthAdjust="spacing">n=4</text>
<text x="691.5" y="2571.5" font-size="27.74" font-weight="normal" text-anchor="middle" fill="#fff" textLength="45" lengthAdjust="spacing">n=7</text>
<text x="887.5" y="2571.5" font-size="27.74" font-weight="normal" text-anchor="middle" fill="#fff" textLength="45" lengthAdjust="spacing">n=4</text>
<line x1="198.5" y1="2135.9" x2="198.5" y2="2579.2" stroke="#000" stroke-width="5.4"/>
<line x1="184.5" y1="2576.5" x2="991" y2="2576.5" stroke="#000" stroke-width="5.4"/>
<line x1="185" y1="2138.6" x2="212" y2="2138.6" stroke="#000" stroke-width="5.4"/>
<line x1="198.5" y1="2047.3" x2="198.5" y2="2101.2" stroke="#000" stroke-width="5.4"/>
<line x1="184.5" y1="2050" x2="198.5" y2="2050" stroke="#000" stroke-width="5.4"/>
<line x1="185" y1="2098.5" x2="212" y2="2098.5" stroke="#000" stroke-width="5.4"/>
<text x="176" y="2586.31" font-size="27.74" font-weight="bold" text-anchor="end" fill="#000">0</text>
<line x1="184.5" y1="2467.3" x2="198.5" y2="2467.3" stroke="#000" stroke-width="5.4"/>
<text x="176" y="2477.11" font-size="27.74" font-weight="bold" text-anchor="end" fill="#000">5</text>
<line x1="184.5" y1="2357.8" x2="198.5" y2="2357.8" stroke="#000" stroke-width="5.4"/>
<text x="176" y="2367.61" font-size="27.74" font-weight="bold" text-anchor="end" fill="#000">10</text>
<line x1="184.5" y1="2247.8" x2="198.5" y2="2247.8" stroke="#000" stroke-width="5.4"/>
<text x="176" y="2257.61" font-size="27.74" font-weight="bold" text-anchor="end" fill="#000">15</text>
<text x="176" y="2148.41" font-size="27.74" font-weight="bold" text-anchor="end" fill="#000">20</text>
<text x="176" y="2059.81" font-size="27.74" font-weight="bold" text-anchor="end" fill="#000">50</text>
<line x1="296.5" y1="2576.5" x2="296.5" y2="2592" stroke="#000" stroke-width="5.4"/>
<line x1="494" y1="2576.5" x2="494" y2="2592" stroke="#000" stroke-width="5.4"/>
<line x1="691" y1="2576.5" x2="691" y2="2592" stroke="#000" stroke-width="5.4"/>
<line x1="888.5" y1="2576.5" x2="888.5" y2="2592" stroke="#000" stroke-width="5.4"/>
<text x="593.5" y="2003.11" font-size="26.75" font-weight="bold" text-anchor="middle" fill="#000" textLength="76" lengthAdjust="spacing">FGF-2</text>
<text transform="translate(119 2317) rotate(-90)" font-size="29.03" font-weight="bold" text-anchor="middle" textLength="326" lengthAdjust="spacing">relative mRNA quantity</text>
<text x="39" y="1915.5" font-size="48" font-weight="bold" text-anchor="start" fill="#000">e</text>
<rect x="1545" y="2563.5" width="132.5" height="17" fill="#0000f8"/>
<rect x="1743.5" y="2563.5" width="132.5" height="17" fill="#00bc00"/>
<rect x="1941.5" y="2555" width="133.5" height="25.5" fill="#fa0000"/>
<rect x="2140" y="2557.5" width="133.5" height="23" fill="#a808e0"/>
<circle cx="1580" cy="2567.5" r="8.29" fill="#898989"/>
<circle cx="1600" cy="2559" r="8.29" fill="#898989"/>
<circle cx="1622.5" cy="2562.5" r="8.29" fill="#898989"/>
<circle cx="1645" cy="2560" r="8.29" fill="#898989"/>
<rect x="1769.05" y="2556.55" width="16.9" height="16.9" fill="#898989"/>
<rect x="1790.55" y="2546.55" width="16.9" height="16.9" fill="#898989"/>
<rect x="1811.55" y="2559.05" width="16.9" height="16.9" fill="#898989"/>
<rect x="1834.05" y="2551.55" width="16.9" height="16.9" fill="#898989"/>
<path d="M1954.42 2561.62L1975.58 2561.62L1965 2543.38Z" fill="#898989"/>
<path d="M1976.92 2558.12L1998.08 2558.12L1987.5 2539.88Z" fill="#898989"/>
<path d="M1998.42 2559.12L2019.58 2559.12L2009 2540.88Z" fill="#898989"/>
<path d="M2019.42 2559.12L2040.58 2559.12L2030 2540.88Z" fill="#898989"/>
<path d="M2040.92 2561.62L2062.08 2561.62L2051.5 2543.38Z" fill="#898989"/>
<path d="M1954.42 2573.12L1975.58 2573.12L1965 2554.88Z" fill="#898989"/>
<path d="M2040.92 2574.12L2062.08 2574.12L2051.5 2555.88Z" fill="#898989"/>
<path d="M2165.05 2545L2175 2535.05L2184.95 2545L2175 2554.95Z" fill="#898989"/>
<path d="M2185.05 2550L2195 2540.05L2204.95 2550L2195 2559.95Z" fill="#898989"/>
<path d="M2207.55 2555L2217.5 2545.05L2227.45 2555L2217.5 2564.95Z" fill="#898989"/>
<path d="M2230.05 2555L2240 2545.05L2249.95 2555L2240 2564.95Z" fill="#898989"/>
<path d="M2177.55 2562.5L2187.5 2552.55L2197.45 2562.5L2187.5 2572.45Z" fill="#898989"/>
<line x1="1611" y1="2559" x2="1611" y2="2565.5" stroke="#000" stroke-width="5.4"/>
<line x1="1575" y1="2559" x2="1647" y2="2559" stroke="#000" stroke-width="5.8"/>
<line x1="1809" y1="2559" x2="1809" y2="2565.5" stroke="#000" stroke-width="5.4"/>
<line x1="1775" y1="2559" x2="1843" y2="2559" stroke="#000" stroke-width="5.8"/>
<line x1="2008" y1="2553.5" x2="2008" y2="2557" stroke="#000" stroke-width="5.4"/>
<line x1="1975" y1="2553.5" x2="2041" y2="2553.5" stroke="#000" stroke-width="5.8"/>
<line x1="2206" y1="2552.5" x2="2206" y2="2559.5" stroke="#000" stroke-width="5.4"/>
<line x1="2172" y1="2552.5" x2="2240" y2="2552.5" stroke="#000" stroke-width="5.8"/>
<text x="2006.5" y="2576" font-size="27.91" font-weight="normal" text-anchor="middle" fill="#fff" textLength="45" lengthAdjust="spacing">n=7</text>
<text x="2205.75" y="2576" font-size="27.91" font-weight="normal" text-anchor="middle" fill="#fff" textLength="46.5" lengthAdjust="spacing">n=5</text>
<line x1="1511.5" y1="2137.3" x2="1511.5" y2="2583.2" stroke="#000" stroke-width="5.4"/>
<line x1="1497.5" y1="2580.5" x2="2309" y2="2580.5" stroke="#000" stroke-width="5.4"/>
<line x1="1498" y1="2140" x2="1525" y2="2140" stroke="#000" stroke-width="5.4"/>
<line x1="1511.5" y1="2047.3" x2="1511.5" y2="2102.7" stroke="#000" stroke-width="5.4"/>
<line x1="1497.5" y1="2050" x2="1511.5" y2="2050" stroke="#000" stroke-width="5.4"/>
<line x1="1498" y1="2100" x2="1525" y2="2100" stroke="#000" stroke-width="5.4"/>
<text x="1489" y="2590.37" font-size="27.91" font-weight="normal" text-anchor="end" fill="#000" stroke="#000" stroke-width="0.5">0</text>
<line x1="1497.5" y1="2404.6" x2="1511.5" y2="2404.6" stroke="#000" stroke-width="5.4"/>
<text x="1489" y="2414.47" font-size="27.91" font-weight="normal" text-anchor="end" fill="#000" stroke="#000" stroke-width="0.5">10</text>
<line x1="1497.5" y1="2228" x2="1511.5" y2="2228" stroke="#000" stroke-width="5.4"/>
<text x="1489" y="2237.87" font-size="27.91" font-weight="normal" text-anchor="end" fill="#000" stroke="#000" stroke-width="0.5">20</text>
<text x="1489" y="2059.87" font-size="27.91" font-weight="normal" text-anchor="end" fill="#000" stroke="#000" stroke-width="0.5">50</text>
<line x1="1611" y1="2580.5" x2="1611" y2="2596" stroke="#000" stroke-width="5.4"/>
<line x1="1809" y1="2580.5" x2="1809" y2="2596" stroke="#000" stroke-width="5.4"/>
<line x1="2008" y1="2580.5" x2="2008" y2="2596" stroke="#000" stroke-width="5.4"/>
<line x1="2206" y1="2580.5" x2="2206" y2="2596" stroke="#000" stroke-width="5.4"/>
<text x="1910" y="1998.67" font-size="26.92" font-weight="bold" text-anchor="middle" fill="#000" textLength="70" lengthAdjust="spacing">VEGF</text>
<text transform="translate(1433.6 2318.6) rotate(-90)" font-size="29.21" font-weight="bold" text-anchor="middle" textLength="328" lengthAdjust="spacing">relative mRNA quantity</text>
<text x="1355" y="1916.5" font-size="48" font-weight="bold" text-anchor="start" fill="#000">f</text>
<rect x="231.5" y="3398.5" width="133.5" height="99" fill="#0000f8"/>
<rect x="430" y="3373" width="134" height="124.5" fill="#00bc00"/>
<rect x="630" y="3441" width="132.5" height="56.5" fill="#fa0000"/>
<rect x="828.5" y="3432.5" width="132.5" height="65" fill="#a808e0"/>
<circle cx="298" cy="3382.5" r="8.35" fill="#898989"/>
<circle cx="298" cy="3397.5" r="8.35" fill="#898989"/>
<circle cx="298" cy="3415" r="8.35" fill="#898989"/>
<rect x="488.25" y="3342.5" width="17" height="17" fill="#898989"/>
<rect x="488.25" y="3352.5" width="17" height="17" fill="#898989"/>
<rect x="466.5" y="3367.5" width="17" height="17" fill="#898989"/>
<rect x="509" y="3367.5" width="17" height="17" fill="#898989"/>
<rect x="477.5" y="3379" width="17" height="17" fill="#898989"/>
<rect x="499" y="3377.5" width="17" height="17" fill="#898989"/>
<path d="M642.36 3440.18L663.64 3440.18L653 3421.82Z" fill="#898989"/>
<path d="M663.61 3440.18L684.89 3440.18L674.25 3421.82Z" fill="#898989"/>
<path d="M685.11 3434.18L706.39 3434.18L695.75 3415.82Z" fill="#898989"/>
<path d="M706.36 3440.18L727.64 3440.18L717 3421.82Z" fill="#898989"/>
<path d="M727.61 3440.18L748.89 3440.18L738.25 3421.82Z" fill="#898989"/>
<path d="M685.11 3456.18L706.39 3456.18L695.75 3437.82Z" fill="#898989"/>
<path d="M685.11 3467.18L706.39 3467.18L695.75 3448.82Z" fill="#898989"/>
<path d="M685.11 3479.18L706.39 3479.18L695.75 3460.82Z" fill="#898989"/>
<path d="M883.66 3394.82L904.94 3394.82L894.3 3413.18Z" fill="#898989"/>
<path d="M889.36 3410.82L910.64 3410.82L900 3429.18Z" fill="#898989"/>
<path d="M883.66 3418.82L904.94 3418.82L894.3 3437.18Z" fill="#898989"/>
<path d="M883.66 3429.82L904.94 3429.82L894.3 3448.18Z" fill="#898989"/>
<path d="M883.66 3458.32L904.94 3458.32L894.3 3476.68Z" fill="#898989"/>
<line x1="297.5" y1="3389" x2="297.5" y2="3400.5" stroke="#000" stroke-width="5.4"/>
<line x1="264.5" y1="3389" x2="330.5" y2="3389" stroke="#000" stroke-width="5.8"/>
<line x1="496.5" y1="3367.5" x2="496.5" y2="3375" stroke="#000" stroke-width="5.4"/>
<line x1="464.5" y1="3367.5" x2="528.5" y2="3367.5" stroke="#000" stroke-width="5.8"/>
<line x1="696" y1="3436" x2="696" y2="3443" stroke="#000" stroke-width="5.4"/>
<line x1="663.5" y1="3436" x2="728.5" y2="3436" stroke="#000" stroke-width="5.8"/>
<line x1="894.5" y1="3421" x2="894.5" y2="3434.5" stroke="#000" stroke-width="5.4"/>
<line x1="861.5" y1="3421" x2="927.5" y2="3421" stroke="#000" stroke-width="5.8"/>
<text x="293" y="3492.5" font-size="28.09" font-weight="normal" text-anchor="middle" fill="#fff" textLength="46" lengthAdjust="spacing">n=3</text>
<text x="498.75" y="3492.5" font-size="28.09" font-weight="normal" text-anchor="middle" fill="#fff" textLength="47.5" lengthAdjust="spacing">n=6</text>
<text x="695.75" y="3492.5" font-size="28.09" font-weight="normal" text-anchor="middle" fill="#fff" textLength="46.5" lengthAdjust="spacing">n=8</text>
<text x="892" y="3492.5" font-size="28.09" font-weight="normal" text-anchor="middle" fill="#fff" textLength="46" lengthAdjust="spacing">n=5</text>
<path d="M297.5 3351.5L297.5 3091L696 3091L696 3121.5" fill="none" stroke="#000" stroke-width="5.4" stroke-linejoin="miter"/>
<path d="M496.5 3257.5L496.5 3190L894.5 3190L894.5 3372.5" fill="none" stroke="#000" stroke-width="5.4" stroke-linejoin="miter"/>
<path d="M496.5 3321L496.5 3289L696 3289L696 3393.5" fill="none" stroke="#000" stroke-width="5.4" stroke-linejoin="miter"/>
<text x="480" y="3074.5" font-size="30" font-weight="bold" text-anchor="middle" fill="#000" stroke="#000" stroke-width="1.6" stroke-linejoin="round">*</text>
<text x="511.5" y="3074.5" font-size="30" font-weight="bold" text-anchor="middle" fill="#000" stroke="#000" stroke-width="1.6" stroke-linejoin="round">*</text>
<text x="651.5" y="3173.5" font-size="30" font-weight="bold" text-anchor="middle" fill="#000" stroke="#000" stroke-width="1.6" stroke-linejoin="round">*</text>
<text x="680" y="3173.5" font-size="30" font-weight="bold" text-anchor="middle" fill="#000" stroke="#000" stroke-width="1.6" stroke-linejoin="round">*</text>
<text x="708" y="3173.5" font-size="30" font-weight="bold" text-anchor="middle" fill="#000" stroke="#000" stroke-width="1.6" stroke-linejoin="round">*</text>
<text x="736" y="3173.5" font-size="30" font-weight="bold" text-anchor="middle" fill="#000" stroke="#000" stroke-width="1.6" stroke-linejoin="round">*</text>
<text x="552" y="3273" font-size="30" font-weight="bold" text-anchor="middle" fill="#000" stroke="#000" stroke-width="1.6" stroke-linejoin="round">*</text>
<text x="580.5" y="3273" font-size="30" font-weight="bold" text-anchor="middle" fill="#000" stroke="#000" stroke-width="1.6" stroke-linejoin="round">*</text>
<text x="608.5" y="3273" font-size="30" font-weight="bold" text-anchor="middle" fill="#000" stroke="#000" stroke-width="1.6" stroke-linejoin="round">*</text>
<text x="636.5" y="3273" font-size="30" font-weight="bold" text-anchor="middle" fill="#000" stroke="#000" stroke-width="1.6" stroke-linejoin="round">*</text>
<line x1="199.5" y1="3053.8" x2="199.5" y2="3500.2" stroke="#000" stroke-width="5.4"/>
<line x1="185.5" y1="3497.5" x2="998" y2="3497.5" stroke="#000" stroke-width="5.4"/>
<line x1="186" y1="3056.5" x2="213" y2="3056.5" stroke="#000" stroke-width="5.4"/>
<line x1="199.5" y1="2964.8" x2="199.5" y2="3018.7" stroke="#000" stroke-width="5.4"/>
<line x1="185.5" y1="2967.5" x2="199.5" y2="2967.5" stroke="#000" stroke-width="5.4"/>
<line x1="186" y1="3016" x2="213" y2="3016" stroke="#000" stroke-width="5.4"/>
<text x="177" y="3507.43" font-size="28.09" font-weight="bold" text-anchor="end" fill="#000">0</text>
<line x1="185.5" y1="3409" x2="199.5" y2="3409" stroke="#000" stroke-width="5.4"/>
<text x="177" y="3418.93" font-size="28.09" font-weight="bold" text-anchor="end" fill="#000">1</text>
<line x1="185.5" y1="3320.5" x2="199.5" y2="3320.5" stroke="#000" stroke-width="5.4"/>
<text x="177" y="3330.43" font-size="28.09" font-weight="bold" text-anchor="end" fill="#000">2</text>
<line x1="185.5" y1="3232.5" x2="199.5" y2="3232.5" stroke="#000" stroke-width="5.4"/>
<text x="177" y="3242.43" font-size="28.09" font-weight="bold" text-anchor="end" fill="#000">3</text>
<line x1="185.5" y1="3144" x2="199.5" y2="3144" stroke="#000" stroke-width="5.4"/>
<text x="177" y="3153.93" font-size="28.09" font-weight="bold" text-anchor="end" fill="#000">4</text>
<text x="177" y="3066.43" font-size="28.09" font-weight="bold" text-anchor="end" fill="#000">5</text>
<text x="177" y="2977.43" font-size="28.09" font-weight="bold" text-anchor="end" fill="#000">50</text>
<line x1="297.5" y1="3497.5" x2="297.5" y2="3513" stroke="#000" stroke-width="5.4"/>
<line x1="496.5" y1="3497.5" x2="496.5" y2="3513" stroke="#000" stroke-width="5.4"/>
<line x1="696" y1="3497.5" x2="696" y2="3513" stroke="#000" stroke-width="5.4"/>
<line x1="894.5" y1="3497.5" x2="894.5" y2="3513" stroke="#000" stroke-width="5.4"/>
<text x="595" y="2918.23" font-size="27.08" font-weight="bold" text-anchor="middle" fill="#000" textLength="57" lengthAdjust="spacing">IGF1</text>
<text transform="translate(121.5 3236.5) rotate(-90)" font-size="29.39" font-weight="bold" text-anchor="middle" textLength="330" lengthAdjust="spacing">relative mRNA quantity</text>
<text x="38" y="2795.5" font-size="48" font-weight="bold" text-anchor="start" fill="#000">g</text>
<rect x="1549" y="3446" width="132.5" height="50.8" fill="#0000f8"/>
<rect x="1747.5" y="3407.5" width="133.5" height="89.3" fill="#00bc00"/>
<rect x="1946.5" y="3456" width="132.5" height="40.8" fill="#fa0000"/>
<rect x="2145" y="3486" width="132.5" height="10.8" fill="#a808e0"/>
<circle cx="1615" cy="3398" r="8.37" fill="#898989"/>
<circle cx="1615" cy="3435" r="8.37" fill="#898989"/>
<circle cx="1625" cy="3467.5" r="8.37" fill="#898989"/>
<circle cx="1606" cy="3475" r="8.37" fill="#898989"/>
<rect x="1805.47" y="3278.47" width="17.06" height="17.06" fill="#898989"/>
<rect x="1805.47" y="3418.97" width="17.06" height="17.06" fill="#898989"/>
<rect x="1805.47" y="3430.47" width="17.06" height="17.06" fill="#898989"/>
<rect x="1783.97" y="3435.47" width="17.06" height="17.06" fill="#898989"/>
<rect x="1827.47" y="3432.47" width="17.06" height="17.06" fill="#898989"/>
<path d="M2001.83 3348.21L2023.17 3348.21L2012.5 3329.79Z" fill="#898989"/>
<path d="M1991.83 3446.71L2013.17 3446.71L2002.5 3428.29Z" fill="#898989"/>
<path d="M2011.83 3444.21L2033.17 3444.21L2022.5 3425.79Z" fill="#898989"/>
<path d="M1969.33 3506.21L1990.67 3506.21L1980 3487.79Z" fill="#898989"/>
<path d="M1989.33 3506.21L2010.67 3506.21L2000 3487.79Z" fill="#898989"/>
<path d="M2014.33 3506.21L2035.67 3506.21L2025 3487.79Z" fill="#898989"/>
<path d="M2034.33 3504.21L2055.67 3504.21L2045 3485.79Z" fill="#898989"/>
<path d="M2200.96 3459L2211 3448.96L2221.04 3459L2211 3469.04Z" fill="#898989"/>
<path d="M2179.96 3495L2190 3484.96L2200.04 3495L2190 3505.04Z" fill="#898989"/>
<path d="M2200.96 3492.5L2211 3482.46L2221.04 3492.5L2211 3502.54Z" fill="#898989"/>
<path d="M2222.46 3495L2232.5 3484.96L2242.54 3495L2232.5 3505.04Z" fill="#898989"/>
<line x1="1615" y1="3427" x2="1615" y2="3448" stroke="#000" stroke-width="5.4"/>
<line x1="1582" y1="3427" x2="1648" y2="3427" stroke="#000" stroke-width="5.8"/>
<line x1="1814" y1="3377" x2="1814" y2="3409.5" stroke="#000" stroke-width="5.4"/>
<line x1="1781" y1="3377" x2="1847" y2="3377" stroke="#000" stroke-width="5.8"/>
<line x1="2012.5" y1="3433.5" x2="2012.5" y2="3458" stroke="#000" stroke-width="5.4"/>
<line x1="1979" y1="3433.5" x2="2046" y2="3433.5" stroke="#000" stroke-width="5.8"/>
<line x1="2211" y1="3476.5" x2="2211" y2="3488" stroke="#000" stroke-width="5.4"/>
<line x1="2178" y1="3476.5" x2="2244" y2="3476.5" stroke="#000" stroke-width="5.8"/>
<text x="1610.75" y="3491" font-size="28.17" font-weight="normal" text-anchor="middle" fill="#fff" textLength="46.5" lengthAdjust="spacing">n=4</text>
<text x="1815.75" y="3491" font-size="28.17" font-weight="normal" text-anchor="middle" fill="#fff" textLength="48.5" lengthAdjust="spacing">n=5</text>
<text x="2013" y="3491" font-size="28.17" font-weight="normal" text-anchor="middle" fill="#fff" textLength="46" lengthAdjust="spacing">n=7</text>
<line x1="1516.5" y1="3052.1" x2="1516.5" y2="3499.5" stroke="#000" stroke-width="5.4"/>
<line x1="1502.5" y1="3496.8" x2="2313" y2="3496.8" stroke="#000" stroke-width="5.4"/>
<line x1="1503" y1="3054.8" x2="1530" y2="3054.8" stroke="#000" stroke-width="5.4"/>
<line x1="1516.5" y1="2963.3" x2="1516.5" y2="3017.7" stroke="#000" stroke-width="5.4"/>
<line x1="1502.5" y1="2966" x2="1516.5" y2="2966" stroke="#000" stroke-width="5.4"/>
<line x1="1503" y1="3015" x2="1530" y2="3015" stroke="#000" stroke-width="5.4"/>
<text x="1494" y="3506.76" font-size="28.17" font-weight="bold" text-anchor="end" fill="#000">0</text>
<line x1="1502.5" y1="3276" x2="1516.5" y2="3276" stroke="#000" stroke-width="5.4"/>
<text x="1494" y="3285.96" font-size="28.17" font-weight="bold" text-anchor="end" fill="#000">5</text>
<text x="1494" y="3064.76" font-size="28.17" font-weight="bold" text-anchor="end" fill="#000">10</text>
<text x="1494" y="2975.96" font-size="28.17" font-weight="bold" text-anchor="end" fill="#000">50</text>
<line x1="1615" y1="3496.8" x2="1615" y2="3512.3" stroke="#000" stroke-width="5.4"/>
<line x1="1814" y1="3496.8" x2="1814" y2="3512.3" stroke="#000" stroke-width="5.4"/>
<line x1="2012.5" y1="3496.8" x2="2012.5" y2="3512.3" stroke="#000" stroke-width="5.4"/>
<line x1="2211" y1="3496.8" x2="2211" y2="3512.3" stroke="#000" stroke-width="5.4"/>
<text x="1912.5" y="2917.26" font-size="27.16" font-weight="bold" text-anchor="middle" fill="#000" textLength="59" lengthAdjust="spacing">IGF2</text>
<text transform="translate(1437 3235) rotate(-90)" font-size="29.48" font-weight="bold" text-anchor="middle" textLength="331" lengthAdjust="spacing">relative mRNA quantity</text>
<text x="1357" y="2796.5" font-size="48" font-weight="bold" text-anchor="start" fill="#000">h</text>
</g>
<defs><filter id="soft" x="0" y="0" width="100%" height="100%" filterUnits="userSpaceOnUse"><feGaussianBlur stdDeviation="1.1"/></filter></defs>
</svg>
</body>
</html>
